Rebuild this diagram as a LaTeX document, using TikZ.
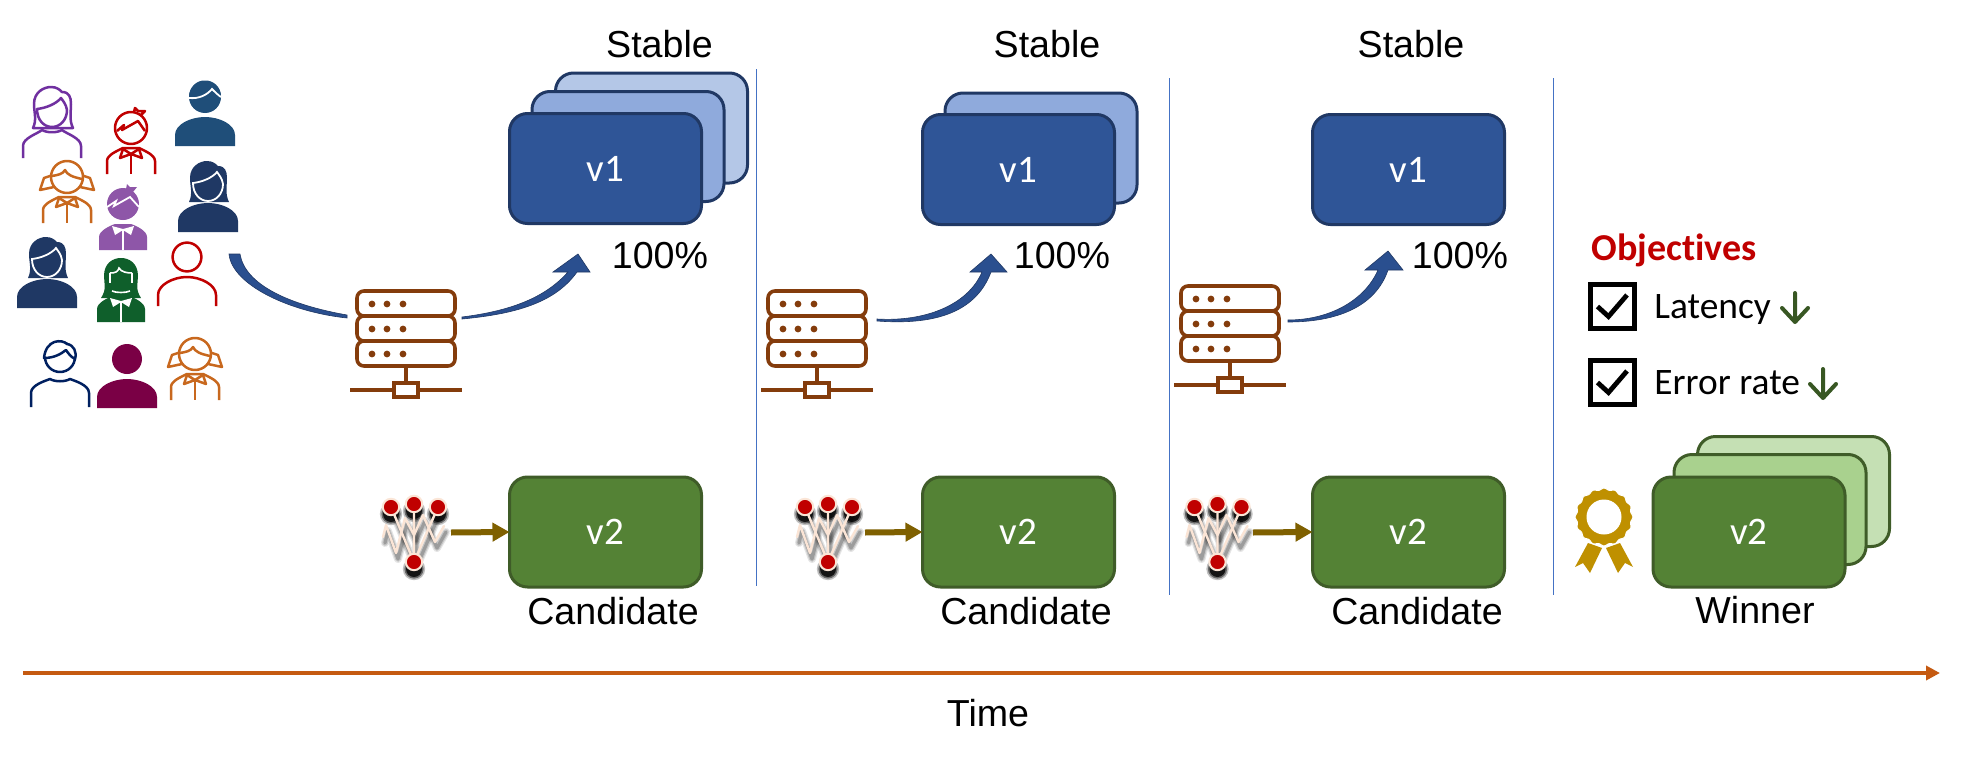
\documentclass[tikz,border=0pt]{standalone}
\usepackage{fontspec}
\setmainfont{Liberation Sans}
\newfontfamily\carlito[Ligatures=NoCommon]{Carlito}
\usetikzlibrary{arrows.meta}
\definecolor{bluefront}{HTML}{2F5597}
\definecolor{blueedge}{HTML}{203864}
\definecolor{bluemid}{HTML}{8FAADC}
\definecolor{blueback}{HTML}{B4C7E7}
\definecolor{greenfront}{HTML}{548235}
\definecolor{greenedge}{HTML}{3F5C28}
\definecolor{greenmid}{HTML}{A9D18E}
\definecolor{greenback}{HTML}{C5E0B4}
\definecolor{serverbrown}{HTML}{843C0C}
\definecolor{flowblue}{HTML}{2A4F8F}
\definecolor{dividerblue}{HTML}{4472C4}
\definecolor{axisorange}{HTML}{C55A11}
\definecolor{netarrowcol}{HTML}{7F6000}
\definecolor{netline}{HTML}{FBE5D6}
\definecolor{medalgold}{HTML}{BF9000}
\definecolor{downgreen}{HTML}{385723}
\definecolor{objred}{HTML}{C00000}
\definecolor{ppurple}{HTML}{7030A0}
\definecolor{pred}{HTML}{C00000}
\definecolor{pblue}{HTML}{1F4E79}
\definecolor{porange}{HTML}{C8681E}
\definecolor{plilac}{HTML}{8E56A8}
\definecolor{pnavy}{HTML}{1F3864}
\definecolor{pgreen}{HTML}{0F5F2B}
\definecolor{pdark}{HTML}{002060}
\definecolor{pmaroon}{HTML}{7A0045}
\tikzset{
  x=0.5pt,y=-0.5pt,
  vbox/.style={draw,line width=1.5pt,rounded corners=9pt,minimum width=96pt,minimum height=55pt,inner sep=0pt,outer sep=0pt,text=white,font=\carlito\fontsize{19.5}{20}\selectfont},
  vone/.style={vbox,draw=blueedge,fill=bluefront},
  vonemid/.style={vbox,draw=blueedge,fill=bluemid},
  voneback/.style={vbox,draw=blueedge,fill=blueback},
  vtwo/.style={vbox,draw=greenedge,fill=greenfront},
  vtwomid/.style={vbox,draw=greenedge,fill=greenmid},
  vtwoback/.style={vbox,draw=greenedge,fill=greenback},
  lab/.style={anchor=base,inner sep=0pt,font=\fontsize{18.8}{20}\selectfont},
  carl/.style={anchor=base west,inner sep=0pt,font=\carlito\fontsize{18.7}{20}\selectfont},
  divider/.style={draw=dividerblue,line width=0.55pt},
  flow/.style={fill=flowblue,draw=blueedge,line width=0.3pt},
  netarrow/.style={draw=netarrowcol,line width=3pt,-{Triangle[length=8.5pt,width=9pt]}},
  axisline/.style={draw=axisorange,line width=2pt,-{Triangle[length=7pt,width=7pt]}},
  chk/.style={draw=black,line width=2.3pt,minimum size=22pt,inner sep=0pt,outer sep=0pt},
  chkmark/.style={draw=black,line width=2.4pt},
  downarr/.style={draw=downgreen,line width=2pt,line cap=round,line join=round},
  icon/.style={line width=1.25pt,line join=round},
  pics/server/.style={code={
    \begin{scope}[draw=serverbrown,line width=1.8pt]
      \draw[rounded corners=3.5pt] (0,0) rectangle (98,25);
      \draw[rounded corners=3.5pt] (0,25) rectangle (98,50);
      \draw[rounded corners=3.5pt] (0,50) rectangle (98,75);
      \draw (49,75) -- (49,92);
      \draw (-7,99) -- (105,99);
      \draw[fill=white] (37,92) rectangle (61,106);
    \end{scope}
    \foreach \yy in {13,38,63}{\foreach \xx in {15,30,46}{\fill[serverbrown] (\xx,\yy) circle (1.7pt);}}
  }},
  pics/neticon/.style={code={
    \foreach \lw/\op in {4pt/0.10,2.8pt/0.14,1.6pt/0.2}{
      \begin{scope}[shift={(2,6)},opacity=\op,line width=\lw,line join=round,line cap=round]
        \draw[black] (-31,-25) -- (-28,-37) -- (-18,-9) -- (-9,-44) -- (0,-27) -- (9,-47) -- (21,-20) -- (30,-36);
        \draw[black] (-23,-55) -- (0,0) -- (0,-58) (24,-55) -- (0,0);
      \end{scope}}
    \foreach \rr/\op in {5.6pt/0.25,4.8pt/0.45,4pt/0.8}{
      \begin{scope}[shift={(0,7)},opacity=\op]
        \foreach \p in {(-23,-55),(0,-58),(24,-55),(0,0)}{\fill[black] \p circle (\rr);}
      \end{scope}}
    \begin{scope}[draw=netline,line cap=round,line join=round,line width=1.2pt]
      \draw (-31,-25) -- (-28,-37) -- (-18,-9) -- (-9,-44) -- (0,-27) -- (9,-47) -- (21,-20) -- (30,-36);
      \draw (-23,-55) -- (0,0) -- (0,-58) (24,-55) -- (0,0);
    \end{scope}
    \foreach \p in {(-23,-55),(0,-58),(24,-55),(0,0)}{\draw[netline,fill=objred,line width=1pt] \p circle (4.1pt);}
  }},
  pics/bodyfill/.style={code={
    \fill[#1] (-30,49) -- (-30,38) .. controls (-30,27) and (-14,20) .. (0,20) .. controls (14,20) and (30,27) .. (30,38) -- (30,49) -- cycle;
  }},
  pics/bodyline/.style={code={
    \draw[#1,icon] (-29,49) -- (-29,38) .. controls (-29,28) and (-14,20) .. (0,20) .. controls (14,20) and (29,28) .. (29,38) -- (29,49);
  }},
  pics/manfill/.style={code={
    \fill[#1] (0,0) circle (16pt/2);
    \fill[#1] (-16,0) .. controls (-16,-10) and (-8,-17) .. (0,-16.5) .. controls (8,-17) and (16,-10) .. (16,-1) -- cycle;
    \draw[white,line width=0.9pt] (-16,1) .. controls (-6,2) and (2,-2) .. (7,-8) .. controls (10,-5) and (13,-2) .. (16,0);
    \path (0,0) pic {bodyfill=#1};
  }},
  pics/manline/.style={code={
    \draw[#1,icon,fill=white] (0,0) circle (15pt/2);
    \draw[#1,icon,fill=white] (-16,1) .. controls (-6,1) and (1,-3) .. (6,-7) .. controls (8,-4) and (11,0) .. (15,2) .. controls (17,-5) and (14,-12) .. (7,-13) .. controls (2,-18) and (-14,-18) .. (-16,1) -- cycle;
    \draw[#1,icon] (-29,50) -- (-29,36) .. controls (-29,28) and (-15,24) .. (-10,22) .. controls (-5,25) and (5,25) .. (10,22) .. controls (15,24) and (29,28) .. (29,36) -- (29,50);
  }},
  pics/womanhair/.style={code={
    \path[#1] (-19,16) .. controls (-15,8) and (-18,0) .. (-18,-8) .. controls (-18,-20) and (-8,-25) .. (-1,-25) .. controls (5,-25) and (8,-22) .. (10,-20) .. controls (17,-20) and (19,-15) .. (19,-8) .. controls (19,0) and (17,8) .. (21,16) -- (10,16) -- (-10,16) -- cycle;
  }},
  pics/womanface/.style={code={
    \path[#1] (-15,-3) .. controls (-6,-4) and (4,-8) .. (9,-14) .. controls (11,-11) and (14,-8) .. (15,-2) .. controls (15,8) and (8,15) .. (0,15) .. controls (-8,15) and (-15,8) .. (-15,-3) -- cycle;
  }},
  pics/womanfill/.style={code={
    \path (0,0) pic {womanhair={fill=#1}};
    \path (0,0) pic {womanface={draw=white,line width=0.9pt}};
    \path (0,-3) pic {bodyfill=#1};
  }},
  pics/womanline/.style={code={
    \path (0,0) pic {womanhair={draw=#1,icon,fill=white}};
    \path (0,0) pic {womanface={draw=#1,icon,fill=white}};
    \draw[#1,icon] (-29,46) -- (-29,34) .. controls (-29,26) and (-15,22) .. (-10,18) .. controls (-5,21) and (5,21) .. (10,18) .. controls (15,22) and (29,26) .. (29,34) -- (29,46);
  }},
  pics/kidbodyline/.style={code={
    \draw[#1,icon] (-24,46) -- (-24,33) .. controls (-24,27) and (-14,23) .. (-8,20) -- (8,20) .. controls (14,23) and (24,27) .. (24,33) -- (24,46);
    \draw[#1,icon,fill=white] (-8,21) -- (-11,30) -- (0,26) -- (11,30) -- (8,21) -- (0,26) -- cycle;
    \draw[#1,icon] (0,26) -- (0,46);
  }},
  pics/kidbodyfill/.style={code={
    \fill[#1] (-24,46) -- (-24,33) .. controls (-24,27) and (-14,22) .. (-8,20) -- (8,20) .. controls (14,22) and (24,27) .. (24,33) -- (24,46) -- cycle;
    \fill[white] (-11,22) -- (-8,31) -- (0,26) -- (8,31) -- (11,22) -- (0,25) -- cycle;
    \draw[white,line width=0.8pt] (0,26) -- (0,46);
  }},
  pics/boyline/.style={code={
    \draw[#1,icon] (0,0) circle (16pt/2);
    \draw[#1,icon] (-14,3) -- (-7,-3) -- (-9,2) -- (7,-7) -- (14,3);
    \draw[#1,icon] (3,-16) -- (4,-20) -- (7,-17) -- (14,-17) -- (10,-13);
    \path (0,0) pic {kidbodyline=#1};
  }},
  pics/boyfill/.style={code={
    \fill[#1] (0,0) circle (16pt/2);
    \fill[#1] (3,-15) -- (4,-20) -- (7,-17) -- (14,-17) -- (10,-12) -- cycle;
    \draw[white,line width=0.9pt] (-16,3) -- (-7,-3) -- (-9,2) -- (7,-7) -- (16,3);
    \path (0,0) pic {kidbodyfill=#1};
  }},
  pics/girlline/.style={code={
    \draw[#1,icon] (-14,-2) -- (-23,1) -- (-27,13) -- (-13,10);
    \draw[#1,icon] (14,-2) -- (23,1) -- (27,13) -- (13,10);
    \draw[#1,icon,fill=white] (0,0) circle (16pt/2);
    \draw[#1,icon] (-15,-1) .. controls (-9,-2) and (-4,-3) .. (-2,-7) .. controls (0,-2) and (6,0) .. (15,2);
    \path (0,0) pic {kidbodyline=#1};
  }},
  pics/girlfill/.style={code={
    \fill[#1] (-20,17) .. controls (-14,8) and (-17,2) .. (-17,-5) .. controls (-17,-18) and (-8,-23) .. (0,-23) .. controls (8,-23) and (17,-18) .. (17,-5) .. controls (17,2) and (14,8) .. (20,17) -- cycle;
    \draw[white,line width=0.8pt] (-11,-8) .. controls (-6,-8) and (-3,-9) .. (-2,-13) .. controls (0,-9) and (6,-8) .. (11,-8);
    \draw[white,line width=0.8pt] (-11,-8) -- (-11,2) (11,-8) -- (11,2);
    \draw[white,line width=0.8pt] (-9,10) .. controls (-5,12) and (5,12) .. (9,10);
    \path (0,-5) pic {kidbodyfill=#1};
  }},
  pics/medal/.style={code={
    \fill[medalgold] (-16,26) -- (-2,31) -- (-14,56) -- (-21,46) -- (-29,50) -- cycle;
    \fill[medalgold] (16,26) -- (2,31) -- (14,56) -- (21,46) -- (29,50) -- cycle;
    \draw[white,line width=0.5pt,fill=medalgold] plot[smooth cycle,samples=129,domain=0:357.2] ({(28+0.9*cos(16*\x))*cos(\x)},{(28+0.9*cos(16*\x))*sin(\x)});
    \fill[white] (0,0) circle (8.75pt);
  }},
}
\begin{document}
\begin{tikzpicture}
\useasboundingbox (0,0) rectangle (1966,760);
\fill[white] (0,0) rectangle (1966,760);

% people
\path (52,112) pic {womanline=ppurple};
\path (131,128) pic {boyline=pred};
\path (205,97) pic {manfill=pblue};
\path (67,177) pic {girlline=porange};
\path (123,204) pic {boyfill=plilac};
\path (208,186) pic {womanfill=pnavy};
\path (47,262) pic {womanfill=pnavy};
\path (121,281) pic {girlfill=pgreen};
\path (187,257) pic {bodyline=pred};
\draw[pred,icon] (187,257) circle (7.2pt);
\path (60,357) pic {manline=pdark};
\fill[pmaroon] (127,359) circle (7.5pt);
\path (127,359) pic {bodyfill=pmaroon};
\path (195,354) pic {girlline=porange};

% stacks column 1
\node[voneback] (b1c) at (651.5,128) {};
\node[vonemid] (b1b) at (628,146.5) {};
\node[vone] (b1a) at (605.5,168.5) {v1};
\node[lab] (s1) at (659.5,57) {Stable};
\node[lab] (p1) at (660,268) {100\%};
\node[vtwo] (g1) at (605.5,532) {v2};
\node[lab] (c1) at (613,624) {Candidate};

% column 2
\node[vonemid] (b2b) at (1041,148) {};
\node[vone] (b2a) at (1018.5,169.5) {v1};
\node[lab] (s2) at (1047,57) {Stable};
\node[lab] (p2) at (1062,268) {100\%};
\node[vtwo] (g2) at (1018.5,532) {v2};
\node[lab] (c2) at (1026,624) {Candidate};

% column 3
\node[vone] (b3a) at (1408.5,169.5) {v1};
\node[lab] (s3) at (1411,57) {Stable};
\node[lab] (p3) at (1460,268) {100\%};
\node[vtwo] (g3) at (1408.5,532) {v2};
\node[lab] (c3) at (1417,624) {Candidate};

% winner
\node[vtwoback] (w3) at (1793.5,491.5) {};
\node[vtwomid] (w2) at (1770,509.5) {};
\node[vtwo] (w1) at (1749,532) {v2};
\node[lab] (wn) at (1755,623) {Winner};
\path (1604,517) pic {medal};

% dividers
\coordinate (d1t) at (756.5,69); \coordinate (d1b) at (756.5,586);
\coordinate (d2t) at (1169.5,78); \coordinate (d2b) at (1169.5,595);
\coordinate (d3t) at (1553.5,78); \coordinate (d3b) at (1553.5,595);
\draw[divider] (d1t) -- (d1b);
\draw[divider] (d2t) -- (d2b);
\draw[divider] (d3t) -- (d3b);

% servers
\path (357,291) pic {server};
\path (768,291) pic {server};
\path (1181,286) pic {server};

% flow arrows
\fill[flow] (229,254) .. controls (232,285) and (290,312) .. (347,318) -- (347,315) .. controls (290,305) and (245,285) .. (240,254) -- cycle;
\fill[flow] (462,317) .. controls (510,311) and (545,298) .. (568,272) -- (553,272) -- (578,254) -- (590,272) -- (577,272) .. controls (555,303) and (515,314) .. (462,319) -- cycle;
\fill[flow] (877,319) .. controls (925,322) and (968,305) .. (982,272) -- (970,272) -- (991,254) -- (1007,272) -- (991,272) .. controls (975,315) and (930,325) .. (877,321) -- cycle;
\fill[flow] (1288,320) .. controls (1330,320) and (1365,300) .. (1378,270) -- (1365,270) -- (1388,251) -- (1403,270) -- (1388,270) .. controls (1375,308) and (1335,322) .. (1288,322) -- cycle;

% network icons
\path (414,562) pic {neticon};
\path (828,562) pic {neticon};
\path (1217.5,562) pic {neticon};
\coordinate (n1) at (451,532.5);
\coordinate (n2) at (865,532.5);
\coordinate (n3) at (1253,532.5);
\draw[netarrow] (n1) -- (g1.west);
\draw[netarrow] (n2) -- (g2.west);
\draw[netarrow] (n3) -- (g3.west);

% objectives
\node[carl,text=objred,font=\carlito\bfseries\fontsize{19}{20}\selectfont] (obj) at (1591,260) {Objectives};
\node[chk] (k1) at (1612.5,306.5) {};
\node[chk] (k2) at (1612.5,382.5) {};
\draw[chkmark] (k1.center) ++(-15,0) -- ++(11,10) -- ++(18.5,-21.5);
\draw[chkmark] (k2.center) ++(-15,0) -- ++(11,10) -- ++(18.5,-21.5);
\node[carl] (lat) at (1654,318) {Latency};
\node[carl] (err) at (1654,394) {Error rate};
\draw[downarr] (1795,293) -- (1795,322) (1782,308) -- (1795,322) -- (1808,308);
\draw[downarr] (1823,369) -- (1823,398) (1810,384) -- (1823,398) -- (1836,384);

% time axis
\coordinate (t0) at (23,673);
\coordinate (t1) at (1940,673);
\draw[axisline] (t0) -- (t1);
\node[lab] (tm) at (988,726) {Time};
\end{tikzpicture}
\end{document}
